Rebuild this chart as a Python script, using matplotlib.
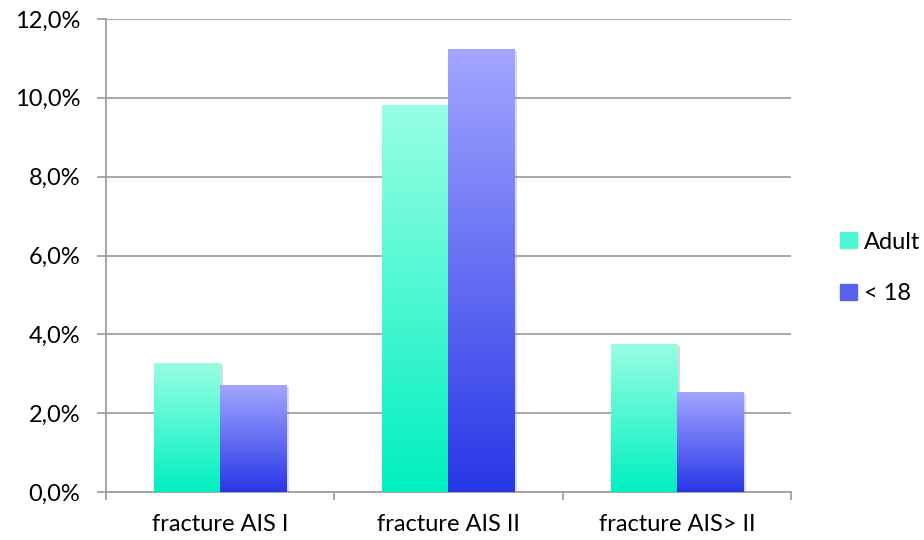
import numpy as np
import matplotlib
matplotlib.use("Agg")
import matplotlib.pyplot as plt
from matplotlib.colors import LinearSegmentedColormap
from matplotlib.ticker import FuncFormatter, FixedLocator
from matplotlib.patches import Patch
import matplotlib.patheffects as pe

categories = ["fracture AIS I", "fracture AIS II", "fracture AIS> II"]
adult = [3.25, 9.8, 3.73]
minors = [2.69, 11.22, 2.53]
series_names = ["Adult", "< 18"]

plt.rcParams['font.family'] = ['Lato', 'DejaVu Sans']

fig = plt.figure(figsize=(9.24, 5.4), dpi=100)
ax = fig.add_axes([106/924, 1 - 492/540, (791 - 106)/924, (492 - 19)/540])

# gradient colours, bottom -> top
adult_cmap = LinearSegmentedColormap.from_list("adult", ["#00EFC0", "#98FFE3"])
kid_cmap = LinearSegmentedColormap.from_list("kid", ["#2837E6", "#A2A6FF"])

x = np.arange(len(categories))
w = 0.29
b1 = ax.bar(x - w/2, adult, w, color="#5AF5D2", zorder=3)
b2 = ax.bar(x + w/2, minors, w, color="#6870F3", zorder=3)

grad = np.linspace(0, 1, 256).reshape(-1, 1)
for bars, cmap in [(b1, adult_cmap), (b2, kid_cmap)]:
    for p in bars:
        p.set_path_effects([pe.SimplePatchShadow(offset=(2, -1), shadow_rgbFace="#888888", alpha=0.3),
                            pe.Normal()])
        x0, y0 = p.get_x(), p.get_y()
        ax.imshow(grad, cmap=cmap, origin="lower", aspect="auto", zorder=4,
                  extent=[x0, x0 + p.get_width(), y0, y0 + p.get_height()],
                  interpolation="bilinear")

ax.set_xlim(-0.5, 2.5)
ax.set_ylim(0, 12)
ax.set_yticks(np.arange(0, 13, 2))
ax.yaxis.set_major_formatter(FuncFormatter(lambda v, pos: f"{v:.1f}".replace(".", ",") + "%"))
ax.set_xticks(x)
ax.set_xticklabels(categories)
ax.xaxis.set_minor_locator(FixedLocator([-0.5, 0.5, 1.5, 2.5]))

ax.grid(axis="y", color="#A0A0A0", linewidth=1.3, zorder=1)
ax.set_axisbelow(True)
for s in ["top", "right"]:
    ax.spines[s].set_visible(False)
for s in ["left", "bottom"]:
    ax.spines[s].set_color("#A0A0A0")
    ax.spines[s].set_linewidth(1.3)

ax.tick_params(axis="y", length=6.5, width=1.3, color="#A0A0A0", pad=12, labelsize=17)
ax.tick_params(axis="x", which="major", length=0, pad=16, labelsize=17)
ax.tick_params(axis="x", which="minor", length=6, width=1.3, color="#A0A0A0")

handles = [Patch(color="#4DF5D0", label=series_names[0]),
           Patch(color="#5A62F0", label=series_names[1])]
leg = ax.legend(handles=handles, frameon=False, loc="center left",
                bbox_to_anchor=(831/924, 272/540), bbox_transform=fig.transFigure,
                fontsize=17, handlelength=0.68, handleheight=0.68, handletextpad=0.3,
                labelspacing=1.3, borderaxespad=0)

fig.savefig("out.png", dpi=100)
